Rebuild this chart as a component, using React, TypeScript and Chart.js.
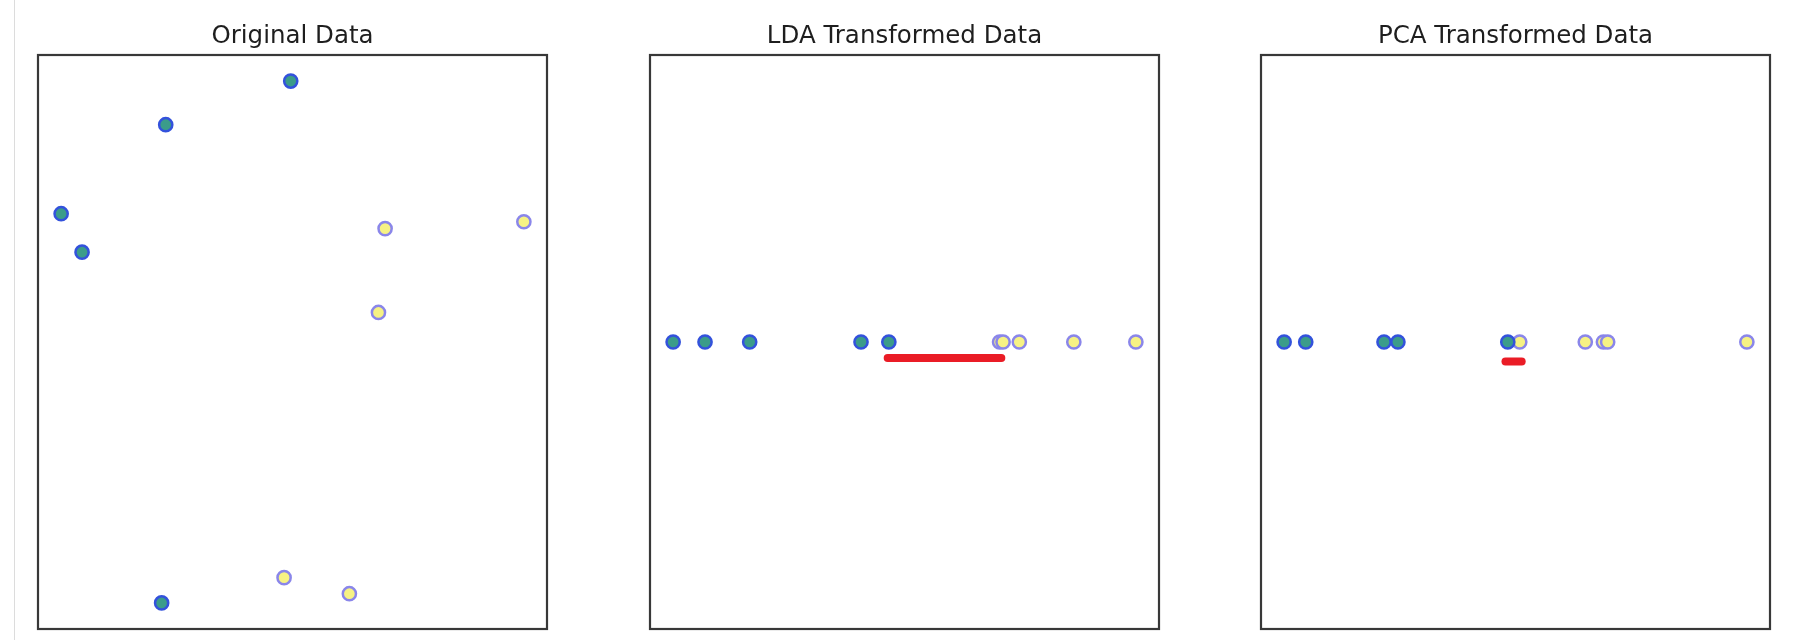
import React, { useEffect, useRef } from "react";
import { Chart, registerables } from "chart.js";

Chart.register(...registerables);

// ---------- data ----------
const TITLES = ["Original Data", "LDA Transformed Data", "PCA Transformed Data"];

// Original 2-D data
const ORIG_CLASS0_X = [4.94, 2.49, 0.44, 0.85, 2.41];
const ORIG_CLASS0_Y = [9.54, 8.78, 7.23, 6.56, 0.45];
const ORIG_CLASS1_X = [6.79, 9.51, 6.66, 4.81, 6.09];
const ORIG_CLASS1_Y = [6.97, 7.09, 5.51, 0.89, 0.61];

// LDA projection (1-D)
const LDA_CLASS0 = [-4.0, -3.45, -2.68, -0.76, -0.28];
const LDA_CLASS1 = [1.63, 1.69, 1.97, 2.91, 3.98];
const LDA_GAP_X = [-0.3, 1.66];
const LDA_GAP_Y = -0.056;

// PCA projection (1-D)
const PCA_CLASS0 = [-6.0, -5.44, -3.41, -3.05, -0.2];
const PCA_CLASS1 = [0.11, 1.81, 2.28, 2.39, 6.0];
const PCA_GAP_X = [-0.26, 0.16];
const PCA_GAP_Y = -0.068;

const PROJ_Y_RANGE = [-1, 1];

// ---------- style ----------
const CLASS0_FILL = "#3b9c8a";
const CLASS0_EDGE = "#3352dc";
const CLASS1_FILL = "#f6f284";
const CLASS1_EDGE = "#8a86ea";
const GAP_COLOR = "#ea1c26";
const FONT = "'DejaVu Sans', 'Liberation Sans', sans-serif";

const PANEL_LEFT = [38, 650, 1261];
const PANEL_W = 509;
const PAD = 10;

function autoRange(vals: number[]) {
  const mn = Math.min(...vals);
  const mx = Math.max(...vals);
  const m = (mx - mn) * 0.05;
  return [mn - m, mx + m];
}

const borderPlugin = {
  id: "frameBorder",
  afterDraw(chart: any) {
    const { ctx, chartArea } = chart;
    ctx.save();
    ctx.strokeStyle = "#383838";
    ctx.lineWidth = 2.2;
    ctx.strokeRect(chartArea.left, chartArea.top, chartArea.right - chartArea.left, chartArea.bottom - chartArea.top);
    ctx.restore();
  },
};

function pointDataset(xs: number[], ys: number[], fill: string, edge: string) {
  return {
    type: "scatter" as const,
    data: xs.map((x, i) => ({ x, y: ys[i] })),
    backgroundColor: fill,
    borderColor: edge,
    borderWidth: 2.5,
    pointRadius: 6.6,
    pointHoverRadius: 6.6,
    clip: false as any,
  };
}

function gapDataset(xs: number[], y: number) {
  return {
    type: "line" as const,
    data: xs.map((x) => ({ x, y })),
    borderColor: GAP_COLOR,
    backgroundColor: GAP_COLOR,
    borderWidth: 8,
    borderCapStyle: "round" as const,
    pointRadius: 0,
    showLine: true,
    fill: false,
    clip: false as any,
  };
}

function buildConfig(index: number): any {
  let datasets: any[] = [];
  let xr: number[] = [];
  let yr: number[] = [];
  if (index === 0) {
    datasets = [
      pointDataset(ORIG_CLASS0_X, ORIG_CLASS0_Y, CLASS0_FILL, CLASS0_EDGE),
      pointDataset(ORIG_CLASS1_X, ORIG_CLASS1_Y, CLASS1_FILL, CLASS1_EDGE),
    ];
    xr = autoRange([...ORIG_CLASS0_X, ...ORIG_CLASS1_X]);
    yr = autoRange([...ORIG_CLASS0_Y, ...ORIG_CLASS1_Y]);
  } else {
    const c0 = index === 1 ? LDA_CLASS0 : PCA_CLASS0;
    const c1 = index === 1 ? LDA_CLASS1 : PCA_CLASS1;
    const gx = index === 1 ? LDA_GAP_X : PCA_GAP_X;
    const gy = index === 1 ? LDA_GAP_Y : PCA_GAP_Y;
    datasets = [
      gapDataset(gx, gy),
      pointDataset(c0, c0.map(() => 0), CLASS0_FILL, CLASS0_EDGE),
      pointDataset(c1, c1.map(() => 0), CLASS1_FILL, CLASS1_EDGE),
    ];
    xr = autoRange([...c0, ...c1]);
    yr = PROJ_Y_RANGE;
  }
  return {
    type: "scatter",
    data: { datasets },
    options: {
      animation: false,
      responsive: false,
      events: [],
      layout: { padding: { left: PAD, right: PAD, top: 0, bottom: 11 } },
      plugins: {
        legend: { display: false },
        tooltip: { enabled: false },
        title: {
          display: true,
          text: TITLES[index],
          color: "#1e1e1e",
          font: { family: FONT, size: 24.5, weight: "normal", lineHeight: 1.2 },
          padding: { top: 21.5, bottom: 4.1 },
        },
      },
      scales: {
        x: { type: "linear", display: false, min: xr[0], max: xr[1] },
        y: { type: "linear", display: false, min: yr[0], max: yr[1] },
      },
    },
    plugins: [borderPlugin],
  };
}

function Panel({ index }: { index: number }) {
  const ref = useRef<HTMLCanvasElement | null>(null);
  useEffect(() => {
    if (!ref.current) return;
    const chart = new Chart(ref.current, buildConfig(index));
    return () => chart.destroy();
  }, [index]);
  return (
    <canvas
      ref={ref}
      width={PANEL_W + 2 * PAD}
      height={640}
      style={{ position: "absolute", left: PANEL_LEFT[index] - PAD, top: 0, width: PANEL_W + 2 * PAD, height: 640 }}
    />
  );
}

export default function App() {
  return (
    <div style={{ position: "absolute", left: 0, top: 0, width: 1804, height: 640, background: "#ffffff", overflow: "hidden" }}>
      <div style={{ position: "absolute", left: 14, top: 0, width: 1, height: 640, background: "#dcdcdc" }} />
      {[0, 1, 2].map((i) => (
        <Panel key={i} index={i} />
      ))}
    </div>
  );
}
